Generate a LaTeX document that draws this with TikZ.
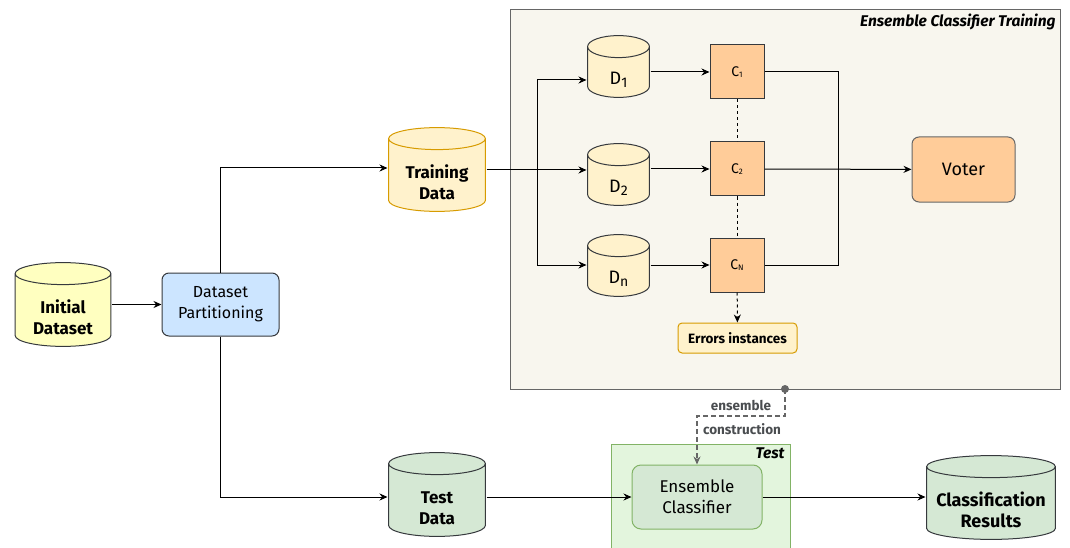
\documentclass[tikz,border=0pt]{standalone}
\usepackage{fontspec}
\setmainfont{Fira Sans}
\usetikzlibrary{positioning,arrows.meta,calc}
\definecolor{EnsLine}{HTML}{36393D}
\definecolor{EnsGray}{HTML}{666666}
\definecolor{EnsYellow}{HTML}{FFFFC0}
\definecolor{EnsBlue}{HTML}{CCE5FF}
\definecolor{EnsCream}{HTML}{FFF2CC}
\definecolor{EnsOrange}{HTML}{D79B00}
\definecolor{EnsPeach}{HTML}{FFCC99}
\definecolor{EnsGreen}{HTML}{D5E8D4}
\definecolor{EnsGreenLine}{HTML}{82B366}
\definecolor{EnsTestBg}{HTML}{E3F5DD}
\definecolor{EnsBeige}{HTML}{F8F6EE}
% text of a cylinder sits in its front face, below the lid
\newcommand{\cyltext}[1]{\raisebox{-15pt}[\height][\depth]{\begin{tabular}{@{}c@{}}#1\end{tabular}}}
\newcommand{\dsub}[1]{\raisebox{-13pt}[\height][\depth]{D\raisebox{-0.35ex}{\fontsize{14}{14}\selectfont #1}}}
\newcommand{\csub}[1]{C\raisebox{-0.2ex}{\fontsize{8}{8}\selectfont #1}}
\tikzset{dbfill/.store in=\dbfill,dbline/.store in=\dbline,dbfill=white,dbline=EnsLine}

\begin{document}
\begin{tikzpicture}[x=1pt,y=-1pt,line width=1pt,>={Stealth[length=8pt,width=7pt]},
 db/.style={rectangle,inner sep=0pt,font=\bfseries\fontsize{17}{21}\selectfont,
  path picture={
   \path[fill=\dbfill,draw=\dbline,line width=1pt]
    let \p1=(path picture bounding box.south west),\p2=(path picture bounding box.north east),\n1={(\x2-\x1)/2-0.6pt} in
    (\x1+0.6pt,\y2-11.6pt) -- (\x1+0.6pt,\y1+11.6pt) arc[start angle=180,end angle=360,x radius=\n1,y radius=11pt]
    -- (\x2-0.6pt,\y2-11.6pt) arc[start angle=0,end angle=180,x radius=\n1,y radius=11pt] -- cycle
    (\x1+0.6pt,\y2-11.6pt) arc[start angle=180,end angle=360,x radius=\n1,y radius=11pt];}},
 dpart/.style={db,dbfill=EnsCream,minimum width=63pt,minimum height=63pt,font=\fontsize{18}{20}\selectfont},
 proc/.style={draw=EnsLine,rounded corners=7pt,align=center,font=\fontsize{16}{21}\selectfont},
 clf/.style={draw=EnsLine,fill=EnsPeach,minimum width=54pt,minimum height=54pt,inner sep=0pt,font=\fontsize{14}{16}\selectfont},
 grouplabel/.style={font=\bfseries\itshape\fontsize{15.5}{18}\selectfont,inner sep=2pt},
 flowlabel/.style={font=\bfseries\fontsize{13.5}{15}\selectfont,text=EnsLine!90,inner sep=1pt}]
\clip (0,0) rectangle (1070,548);
% containers
\node[draw=EnsGray,fill=EnsBeige,minimum width=550pt,minimum height=379pt,inner sep=0pt] (train box) at (785,199.5) {};
\node[grouplabel,anchor=north east] at (1058,11) {Ensemble Classifier Training};
\node[draw=EnsGreenLine,fill=EnsTestBg,minimum width=179pt,minimum height=110pt,inner sep=0pt] (test box) at (700.5,499) {};
\node[grouplabel,anchor=north east] at (787,445) {Test};
% data sources
\node[db,dbfill=EnsYellow,minimum width=97pt,minimum height=85pt] (init) at (63,304.5) {\cyltext{Initial\\Dataset}};
\node[proc,fill=EnsBlue,minimum width=117pt,minimum height=63pt] (part) at (220.5,304.5) {Dataset\\Partitioning};
\node[db,dbfill=EnsCream,dbline=EnsOrange,minimum width=98pt,minimum height=85pt] (train) at (437,169.5) {\cyltext{Training\\Data}};
\node[db,dbfill=EnsGreen,minimum width=98pt,minimum height=85pt] (test) at (437,494.5) {\cyltext{Test\\Data}};
% bootstrap subsets and classifiers
\node[dpart] (d1) at (618.5,66.5) {\dsub{1}};
\node[dpart] (d2) at (618.5,174.5) {\dsub{2}};
\node[dpart] (dn) at (618.5,265.5) {\dsub{n}};
\node[clf] (c1) at (737,72) {\csub{1}};
\node[clf] (c2) at (737,169) {\csub{2}};
\node[clf] (cn) at (737,265) {\csub{N}};
\node[proc,draw=EnsOrange,fill=EnsCream,rounded corners=4pt,minimum width=119pt,minimum height=30pt,font=\bfseries\fontsize{13.5}{15}\selectfont] (err) at (737.5,338) {Errors instances};
\node[proc,draw=EnsGray,fill=EnsPeach,minimum width=103pt,minimum height=65pt,font=\fontsize{18}{20}\selectfont] (voter) at (963.5,169.5) {Voter};
% test stage
\node[proc,draw=EnsGreenLine,fill=EnsGreen,minimum width=130pt,minimum height=64pt,rounded corners=9pt,font=\fontsize{17}{21}\selectfont] (ens) at (697,497) {Ensemble\\Classifier};
\node[db,dbfill=EnsGreen,minimum width=130pt,minimum height=85pt,font=\bfseries\fontsize{18}{21}\selectfont] (res) at (991,497.5) {\cyltext{Classification\\Results}};
\coordinate (split) at (537,170);
\coordinate (join) at (838,170);
\coordinate (tap) at (785,389);
% connectors
\draw[->] (init) -- (part);
\draw[->] (part.north) |- (train.west |- 0,168);
\draw[->] (part.south) |- (test.west |- ens);
\draw[->] (train.east |- split) -- (split -| d2.west);
\draw[->] (split) |- ([yshift=-13.5pt]d1.west);
\draw[->] (split) |- (dn.west |- cn);
\draw[->] (d1.east |- c1) -- (c1.west);\draw[->] (d2.east |- c2) -- (c2.west);\draw[->] (dn.east |- cn) -- (cn.west);
\draw[dash pattern=on 3pt off 3pt] (c1) -- (c2);\draw[dash pattern=on 3pt off 3pt] (c2) -- (cn);
\draw[->,dash pattern=on 3pt off 3pt] (cn) -- (err);
\draw (c1.east) -| (join) |- (cn.east);
\draw[->] (c2) -- (voter);
\draw[->] (test.east |- ens) -- (ens);
\draw[->] (ens) -- (ens -| res.west);
\fill[EnsGray] (tap) circle (4pt);
\draw[->,EnsGray,line width=2pt,dash pattern=on 5pt off 3pt] (tap) -- ++(0,27) -| (ens.north);
\node[flowlabel] at (741,405) {ensemble};
\node[flowlabel] at (742,429) {construction};
\end{tikzpicture}
\end{document}
